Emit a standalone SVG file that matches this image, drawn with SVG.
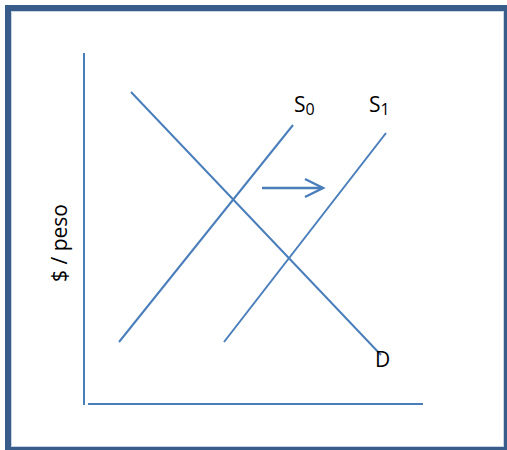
<svg xmlns="http://www.w3.org/2000/svg" width="507" height="450" viewBox="0 0 507 450">
<style>
.ax{stroke:#4A7EBB;stroke-width:2;fill:none}
.ln{stroke:#4A7EBB;stroke-width:2;fill:none}
.lbl{font-family:"Open Sans","Noto Sans","Liberation Sans",sans-serif;font-size:21px;fill:#000}
.sub{font-size:16px}
</style>
<rect x="0" y="0" width="507" height="450" fill="#fff"/>
<rect id="frame" x="8" y="8" width="499" height="442" fill="none" stroke="#385D8A" stroke-width="6"/>
<rect x="11.5" y="11.5" width="492" height="435" fill="none" stroke="#c8d3e3" stroke-width="1"/>
<g id="axes">
<line class="ax" x1="84" y1="53" x2="84" y2="405"/>
<line class="ax" x1="88" y1="404" x2="423" y2="404"/>
</g>
<g id="connectors">
<line id="S0-line" class="ln" x1="119" y1="342" x2="293" y2="125"/>
<line id="S1-line" class="ln" x1="224" y1="342" x2="386" y2="133"/>
<line id="D-line" class="ln" x1="131" y1="92" x2="381" y2="355"/>
<g id="shift-arrow" stroke="#4A7EBB" stroke-width="2.5" fill="none">
<line x1="262" y1="188" x2="323" y2="188"/>
<polyline points="305,179 323,188 305,197"/>
</g>
</g>
<g id="S0"><text class="lbl" x="294" y="112">S<tspan class="sub" dy="3">0</tspan></text></g>
<g id="S1"><text class="lbl" x="369" y="112">S<tspan class="sub" dy="3">1</tspan></text></g>
<g id="D"><text class="lbl" x="375" y="367">D</text></g>
<g id="ylabel"><text class="lbl" transform="translate(67,243) rotate(-90)" text-anchor="middle">$ / peso</text></g>
</svg>
